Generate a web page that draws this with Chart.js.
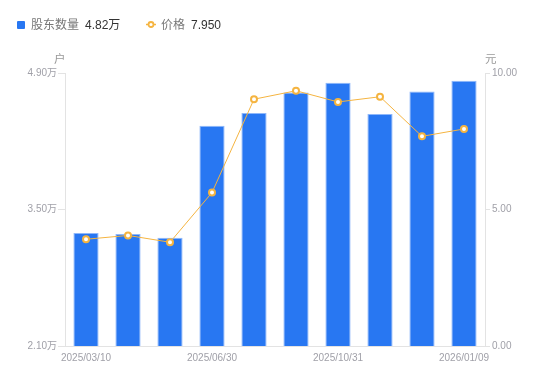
<!DOCTYPE html>
<html><head><meta charset="utf-8">
<script src="https://cdn.jsdelivr.net/npm/chart.js@4/dist/chart.umd.min.js"></script>
<style>
html,body{margin:0;padding:0;background:#fff;}
#wrap{position:relative;width:550px;height:381px;font-family:"Liberation Sans","Noto Sans CJK SC",sans-serif;}
canvas{position:absolute;left:0;top:0;}
.lg{position:absolute;top:17px;font-size:12px;line-height:16px;color:#777;white-space:nowrap;}
.lg b{font-weight:normal;color:#333;margin-left:6px;}
.ttl{position:absolute;top:50px;font-size:11.5px;color:#999;}
</style></head>
<body><div id="wrap">
<canvas id="c" width="550" height="381"></canvas>
<div class="lg" style="left:17px;"><span style="display:inline-block;width:8px;height:8px;background:#2877F2;border-radius:1px;margin-right:6px;vertical-align:0px;"></span>股东数量<b>4.82万</b></div>
<div class="lg" style="left:146px;"><svg width="10" height="9" style="margin-right:5px;vertical-align:0px"><line x1="0" y1="4.5" x2="10" y2="4.5" stroke="#F5B440" stroke-width="1.5"/><circle cx="5" cy="4.5" r="2.5" fill="#fff" stroke="#F5B440" stroke-width="1.8"/></svg>价格<b>7.950</b></div>
<div class="ttl" style="left:54px;">户</div>
<div class="ttl" style="left:485px;">元</div>
</div>
<script>
const categories = ["2025/03/10","2025/03/20","2025/03/31","2025/06/30","2025/08/20","2025/09/30","2025/10/31","2025/11/28","2025/12/31","2026/01/09"];
const holders = [3.26, 3.25, 3.21, 4.36, 4.49, 4.70, 4.80, 4.48, 4.71, 4.82];
const prices = [3.91, 4.05, 3.80, 5.62, 9.04, 9.35, 8.94, 9.13, 7.68, 7.95];
const leftTicks = [2.10, 3.50, 4.90];
const rightTicks = [0, 5, 10];
const shownLabels = [0, 3, 6, 9];

const font = {family:'"Liberation Sans","Noto Sans CJK SC",sans-serif', size:10};
const axisColor = '#e3e3e3';
const tickColor = '#a0a0a8';

new Chart(document.getElementById('c'), {
  data: {
    labels: categories,
    datasets: [
      {type:'line', data: prices, yAxisID:'y1', borderColor:'#F5B440', borderWidth:1,
       pointRadius:3, pointBorderWidth:2, pointBackgroundColor:'#fff', pointBorderColor:'#F5B440',
       tension:0, order:0},
      {type:'bar', data: holders, yAxisID:'y', backgroundColor:'#2877F2',
       borderColor:'rgba(130,175,250,0.9)', borderWidth:{top:1,left:1,right:1,bottom:0},
       barPercentage:1, categoryPercentage:0.6, order:1}
    ]
  },
  options: {
    responsive:false, animation:false,
    layout:{padding:{top:73,left:0,right:0,bottom:0}},
    plugins:{legend:{display:false}, tooltip:{enabled:false}},
    scales:{
      x:{
        grid:{display:true, drawOnChartArea:false, drawTicks:false, color:axisColor},
        border:{display:true,color:axisColor},
        ticks:{autoSkip:false, maxRotation:0, color:tickColor, font, padding:6,
          callback:function(v,i){return shownLabels.includes(i)?categories[i]:'';}},
        afterFit:s=>{s.height=35;}
      },
      y:{
        position:'left', min:2.1, max:4.9,
        afterBuildTicks:s=>{s.ticks=leftTicks.map(v=>({value:v}));},
        grid:{drawOnChartArea:false, color:axisColor, tickLength:7},
        border:{color:axisColor},
        ticks:{color:tickColor, font, padding:1, callback:v=>Number(v).toFixed(2)+'万'},
        afterFit:s=>{s.width=65;}
      },
      y1:{
        position:'right', min:0, max:10,
        afterBuildTicks:s=>{s.ticks=rightTicks.map(v=>({value:v}));},
        grid:{drawOnChartArea:false, color:axisColor, tickLength:5},
        border:{color:axisColor},
        ticks:{color:tickColor, font, padding:2, callback:v=>Number(v).toFixed(2)},
        afterFit:s=>{s.width=65;}
      }
    }
  }
});
</script>
</body></html>
